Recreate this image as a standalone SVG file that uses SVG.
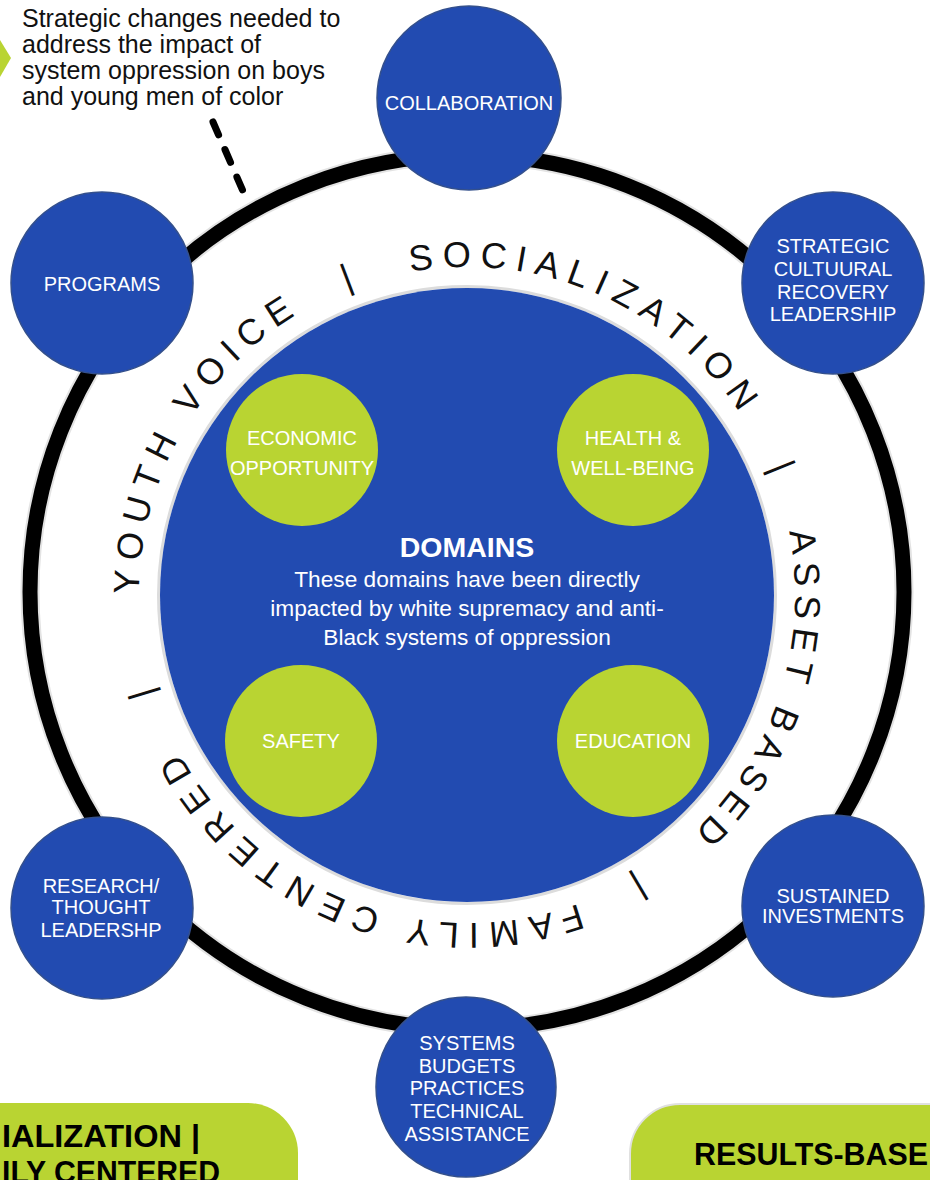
<svg xmlns="http://www.w3.org/2000/svg" xmlns:xlink="http://www.w3.org/1999/xlink" width="930" height="1180" viewBox="0 0 930 1180">
  <defs>
    <style>
      .lbl { font-family: "Liberation Sans", Arial, sans-serif; font-size: 20px; fill: #ffffff; text-anchor: middle; }
      .hub { fill: #224BB1; stroke: #34508C; stroke-width: 1.5; }
      .dom { fill: #B9D432; }
      .ring-txt { font-family: "Liberation Sans", Arial, sans-serif; font-size: 36px; fill: #111111; }
      .note { font-family: "Liberation Sans", Arial, sans-serif; font-size: 25px; fill: #111111; }
      .pill { fill: #B9D432; }
      .pill-txt { font-family: "Liberation Sans", Arial, sans-serif; font-weight: bold; font-size: 32px; fill: #000000; }
      .core-txt { font-family: "Liberation Sans", Arial, sans-serif; font-size: 22.7px; fill: #ffffff; text-anchor: middle; }
    </style>
    <!-- baseline circle for the values text, starting at the left point, clockwise -->
    <path id="valuesPath" d="M139,595 A328,328 0 1,1 795,595 A328,328 0 1,1 139,595"/>
  </defs>

  <rect x="0" y="0" width="930" height="1180" fill="#ffffff"/>

  <!-- outer black ring -->
  <g id="ring">
    <circle cx="467" cy="592" r="437" fill="none" stroke="#e3e3e3" stroke-width="19"/>
    <circle cx="467" cy="592" r="437" fill="none" stroke="#000000" stroke-width="15"/>
  </g>

  <!-- bottom bars -->
  <g id="bar-left">
    <rect class="pill" x="-60" y="1103" width="358" height="150" rx="50"/>
    <text class="pill-txt" x="2" y="1147" textLength="198" lengthAdjust="spacingAndGlyphs">IALIZATION |</text>
    <text class="pill-txt" x="2" y="1183" textLength="218" lengthAdjust="spacingAndGlyphs">ILY CENTERED</text>
  </g>
  <g id="bar-right">
    <rect class="pill" x="630" y="1104" width="360" height="150" rx="50" stroke="#e0e0e0" stroke-width="2"/>
    <text class="pill-txt" x="694" y="1165" textLength="234" lengthAdjust="spacingAndGlyphs">RESULTS-BASE</text>
  </g>

  <!-- connectors -->
  <g id="connectors">
    <polygon points="0,40 11,58 0,77" fill="#B9D432"/>
    <line x1="213" y1="122" x2="246" y2="198" stroke="#000000" stroke-width="7" stroke-linecap="round" stroke-dasharray="14 16"/>
  </g>

  <!-- note -->
  <g id="note">
    <text class="note" x="22" y="27">Strategic changes needed to</text>
    <text class="note" x="22" y="53">address the impact of</text>
    <text class="note" x="22" y="79">system oppression on boys</text>
    <text class="note" x="22" y="105">and young men of color</text>
  </g>

  <!-- strategy nodes around the ring -->
  <g id="node-collaboration">
    <circle class="hub" cx="469" cy="98" r="92"/>
    <text class="lbl" x="469" y="110">COLLABORATION</text>
  </g>
  <g id="node-programs">
    <circle class="hub" cx="102" cy="283" r="91"/>
    <text class="lbl" x="102" y="291">PROGRAMS</text>
  </g>
  <g id="node-strategic">
    <circle class="hub" cx="833" cy="283" r="91"/>
    <text class="lbl" x="833" y="253">STRATEGIC</text>
    <text class="lbl" x="833" y="276">CULTUURAL</text>
    <text class="lbl" x="833" y="299">RECOVERY</text>
    <text class="lbl" x="833" y="321">LEADERSHIP</text>
  </g>
  <g id="node-research">
    <circle class="hub" cx="102" cy="908" r="91"/>
    <text class="lbl" x="101" y="893">RESEARCH/</text>
    <text class="lbl" x="101" y="914">THOUGHT</text>
    <text class="lbl" x="101" y="937">LEADERSHP</text>
  </g>
  <g id="node-sustained">
    <circle class="hub" cx="833" cy="906" r="91"/>
    <text class="lbl" x="833" y="903">SUSTAINED</text>
    <text class="lbl" x="833" y="923">INVESTMENTS</text>
  </g>
  <g id="node-systems">
    <circle class="hub" cx="466" cy="1087" r="90"/>
    <text class="lbl" x="467" y="1050">SYSTEMS</text>
    <text class="lbl" x="467" y="1073">BUDGETS</text>
    <text class="lbl" x="467" y="1095">PRACTICES</text>
    <text class="lbl" x="467" y="1118">TECHNICAL</text>
    <text class="lbl" x="467" y="1141">ASSISTANCE</text>
  </g>

  <!-- values written round the domains -->
  <g id="values">
    <text class="ring-txt" letter-spacing="8.6"><textPath xlink:href="#valuesPath" startOffset="0.6">YOUTH VOICE</textPath></text>
    <text class="ring-txt"><textPath xlink:href="#valuesPath" startOffset="391.4">|</textPath></text>
    <text class="ring-txt" letter-spacing="8.9"><textPath xlink:href="#valuesPath" startOffset="458">SOCIALIZATION</textPath></text>
    <text class="ring-txt"><textPath xlink:href="#valuesPath" startOffset="898.7">|</textPath></text>
    <text class="ring-txt" letter-spacing="7.9"><textPath xlink:href="#valuesPath" startOffset="965.8">ASSET BASED</textPath></text>
    <text class="ring-txt"><textPath xlink:href="#valuesPath" startOffset="1365.2">|</textPath></text>
    <text class="ring-txt" letter-spacing="9.4"><textPath xlink:href="#valuesPath" startOffset="1431.1">FAMILY CENTERED</textPath></text>
    <text class="ring-txt"><textPath xlink:href="#valuesPath" startOffset="1958.3">|</textPath></text>
  </g>

  <!-- domains core -->
  <g id="node-domains">
    <circle cx="467" cy="595" r="308.5" fill="none" stroke="#dcdcdc" stroke-width="3"/>
    <circle cx="467" cy="595" r="307" fill="#224BB1"/>
    <text x="467" y="557" font-family="'Liberation Sans', Arial, sans-serif" font-weight="bold" font-size="28.5" fill="#ffffff" text-anchor="middle">DOMAINS</text>
    <text class="core-txt" x="467" y="587">These domains have been directly</text>
    <text class="core-txt" x="467" y="616">impacted by white supremacy and anti-</text>
    <text class="core-txt" x="467" y="645">Black systems of oppression</text>
  </g>

  <g id="node-economic">
    <circle class="dom" cx="302" cy="450" r="76"/>
    <text class="lbl" x="302" y="445">ECONOMIC</text>
    <text class="lbl" x="302" y="475">OPPORTUNITY</text>
  </g>
  <g id="node-health">
    <circle class="dom" cx="633" cy="450" r="76"/>
    <text class="lbl" x="633" y="445">HEALTH &amp;</text>
    <text class="lbl" x="633" y="475">WELL-BEING</text>
  </g>
  <g id="node-safety">
    <circle class="dom" cx="301" cy="741" r="76"/>
    <text class="lbl" x="301" y="748">SAFETY</text>
  </g>
  <g id="node-education">
    <circle class="dom" cx="633" cy="741" r="76"/>
    <text class="lbl" x="633" y="748">EDUCATION</text>
  </g>
</svg>
